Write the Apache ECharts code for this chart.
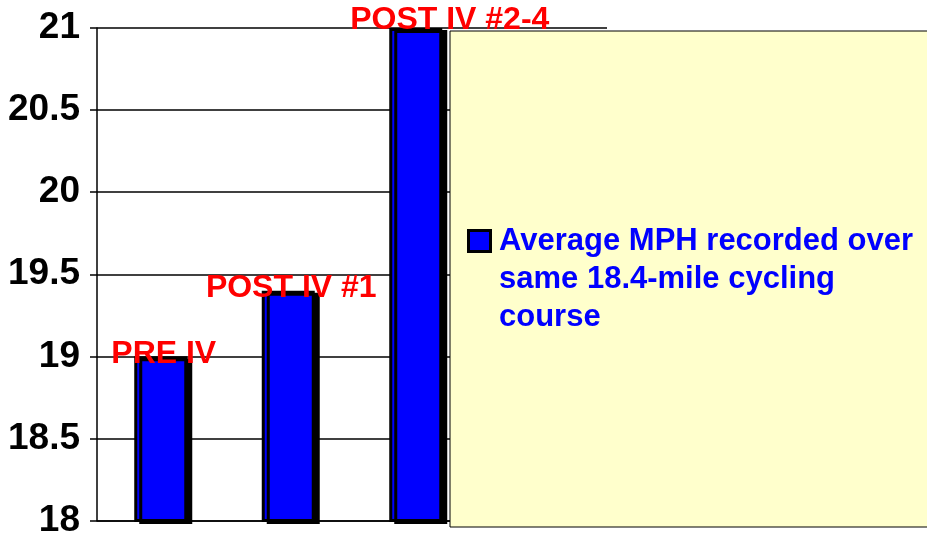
<!DOCTYPE html>
<html>
<head>
<meta charset="utf-8">
<script src="https://cdn.jsdelivr.net/npm/echarts@6/dist/echarts.min.js"></script>
<style>
  html, body { margin: 0; padding: 0; background: #fff; }
  #chart { width: 927px; height: 539px; }
</style>
</head>
<body>
<div id="chart"></div>
<script>
var categories = ['PRE IV', 'POST IV #1', 'POST IV #2-4'];
var mph = [19.0, 19.4, 21.0];
var seriesName = 'Average MPH recorded over same 18.4-mile cycling course';
var legendLines = ['Average MPH recorded over', 'same 18.4-mile cycling', 'course'];

var chart = echarts.init(document.getElementById('chart'));

var barData = mph.map(function (v, i) {
  var item = { value: v };
  if (i === 2) {
    item.label = { offset: [34, -6] };
  }
  return item;
});

var font = 'Liberation Sans, Arial, sans-serif';

chart.setOption({
  animation: false,
  grid: {
    left: 97,
    right: 320,
    top: 28,
    bottom: 17
  },
  graphic: [
    {
      type: 'rect',
      z: 1,
      shape: { x: 450, y: 31, width: 490, height: 496 },
      style: { fill: '#FFFFCC', stroke: '#000', lineWidth: 1 }
    },
    {
      // legend key
      type: 'rect',
      z: 5,
      shape: { x: 468.5, y: 230.5, width: 22, height: 21 },
      style: { fill: '#0000FF', stroke: '#000', lineWidth: 3 }
    },
    {
      type: 'text',
      z: 5,
      x: 499,
      y: 222,
      style: {
        text: legendLines.join('\n'),
        fill: '#0000FF',
        font: 'bold 31px ' + font,
        lineHeight: 38,
        verticalAlign: 'top'
      }
    }
  ],
  xAxis: {
    type: 'category',
    data: categories,
    max: 3,
    axisLine: { lineStyle: { color: '#000', width: 1.5 } },
    axisTick: { show: false },
    axisLabel: { show: false },
    splitLine: { show: false }
  },
  yAxis: {
    type: 'value',
    min: 18,
    max: 21,
    interval: 0.5,
    axisLine: { show: true, lineStyle: { color: '#000', width: 1.5 } },
    axisTick: { show: true, length: 7, lineStyle: { color: '#000', width: 1.5 } },
    axisLabel: {
      color: '#000',
      fontFamily: font,
      fontWeight: 'bold',
      fontSize: 37,
      margin: 17
    },
    splitLine: { show: true, lineStyle: { color: '#000', width: 1.5 } }
  },
  series: [
    {
      name: seriesName,
      type: 'bar',
      z: 3,
      barWidth: 53,
      data: barData,
      itemStyle: {
        color: '#0000FF',
        borderColor: '#000',
        borderWidth: 3,
        shadowColor: '#000',
        shadowBlur: 0,
        shadowOffsetX: 5,
        shadowOffsetY: 2
      },
      label: {
        show: true,
        position: 'top',
        distance: -14,
        offset: [3, 0],
        formatter: function (p) { return categories[p.dataIndex]; },
        color: '#FF0000',
        fontFamily: font,
        fontWeight: 'bold',
        fontSize: 32
      }
    }
  ]
});
</script>
</body>
</html>
